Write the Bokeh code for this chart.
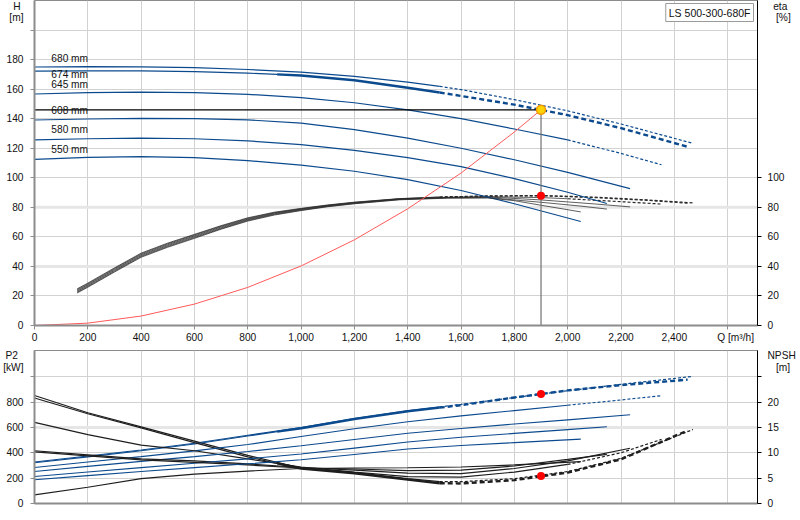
from bokeh.plotting import figure
from bokeh.layouts import column
from bokeh.models import Range1d, LinearAxis, FixedTicker, NumeralTickFormatter, Label, Span
from bokeh.embed import file_html
from bokeh.resources import INLINE

# ---- values (LS 500-300-680F) ----
# Q [m3/h], H [m], P2 [kW], NPSH [m] per impeller diameter
q_680 = [0, 200, 400, 600, 800, 1000, 1200, 1400, 1520, 1600, 1800, 2000, 2200, 2470]
h_680 = [175.0, 175.2, 175.1, 174.5, 173.3, 171.5, 168.7, 164.8, 161.9, 159.7, 152.9, 145.3, 136.4, 123.3]
p2_680 = [328, 375, 422, 475, 538, 600, 672, 733, 762, 782, 836, 890, 940, 1003]
npsh_680 = [21.3, 17.9, 15.1, 12.3, 9.5, 7.0, 6.1, 4.9, 4.3, 4.3, 4.9, 6.3, 8.9, 14.6]

q_674 = [0, 200, 400, 600, 800, 910, 1000, 1200, 1400, 1520, 1600, 1800, 2000, 2200, 2450]
h_674 = [172.2, 172.4, 172.3, 171.8, 170.8, 170.0, 169.2, 166.0, 160.9, 157.7, 155.4, 149.5, 142.4, 133.6, 121.0]
p2_674 = [322, 368, 416, 469, 532, 567, 594, 666, 727, 756, 776, 836, 892, 934, 977]
npsh_674 = [20.8, 17.7, 14.9, 12.0, 9.2, 7.9, 6.9, 5.97, 4.7, 4.0, 3.95, 4.6, 6.1, 8.7, 14.4]

q_645 = [0, 200, 400, 600, 800, 1000, 1200, 1400, 1600, 1800, 2000, 2200, 2352]
h_645 = [156.7, 157.6, 158.0, 157.7, 156.5, 154.2, 150.8, 146.0, 140.0, 133.0, 125.6, 116.5, 108.8]
p2_645 = [284, 328, 370, 415, 465, 528, 590, 645, 691, 733, 775, 817, 850]
npsh_645 = [16.0, 13.6, 11.5, 10.4, 8.8, 7.2, 6.2, 5.3, 5.2, 6.2, 7.7, 10.0, 12.65]

q_608 = [0, 200, 400, 600, 800, 1000, 1200, 1400, 1600, 1800, 2000, 2234]
h_608 = [139.1, 139.8, 140.2, 140.0, 139.2, 137.0, 132.6, 126.8, 120.0, 112.2, 103.6, 92.7]
p2_608 = [252, 293, 332, 370, 410, 455, 505, 554, 592, 627, 660, 700]
npsh_608 = [10.4, 9.6, 8.8, 8.4, 7.8, 7.1, 6.6, 6.0, 5.9, 6.9, 8.4, 10.9]

q_580 = [0, 200, 400, 600, 800, 1000, 1200, 1400, 1600, 1800, 2000, 2147]
h_580 = [125.6, 126.4, 126.8, 126.4, 125.0, 122.4, 118.6, 113.6, 107.6, 99.4, 90.2, 82.6]
p2_580 = [213, 248, 283, 318, 352, 390, 437, 485, 523, 553, 583, 605]
npsh_580 = [10.2, 9.4, 8.6, 8.1, 7.6, 7.0, 6.8, 6.5, 6.6, 7.4, 8.7, 9.7]

q_550 = [0, 200, 400, 600, 800, 1000, 1200, 1400, 1600, 1800, 2049]
h_550 = [112.4, 113.8, 114.3, 113.6, 111.6, 108.6, 104.4, 98.8, 91.4, 82.4, 70.4]
p2_550 = [187, 220, 252, 283, 313, 345, 387, 430, 458, 480, 508]
npsh_550 = [1.7, 3.2, 4.9, 5.8, 6.4, 6.9, 7.0, 7.05, 7.2, 7.6, 8.25]

# efficiency eta [%]
q_eta_680 = [160, 200, 300, 400, 500, 600, 700, 800, 900, 1000, 1100, 1200, 1370, 1520, 1700, 1900, 2100, 2300, 2470]
eta_680 = [24.8, 28.7, 39.0, 49.0, 55.8, 61.7, 67.6, 72.9, 76.7, 79.3, 81.6, 83.5, 85.9, 87.0, 87.7, 88.0, 86.9, 85.0, 83.0]
q_eta_674 = [160, 200, 300, 400, 500, 600, 700, 800, 900, 1000, 1100, 1200, 1370, 1520, 1700, 1900, 2100, 2300, 2450]
eta_674 = [24.3, 28.2, 38.5, 48.5, 55.3, 61.3, 67.2, 72.5, 76.4, 79.0, 81.4, 83.3, 85.8, 86.9, 87.6, 87.8, 86.6, 84.7, 82.8]
q_eta_645 = [160, 200, 300, 400, 500, 600, 700, 800, 900, 1000, 1100, 1200, 1370, 1550, 1700, 1900, 2000, 2200, 2352]
eta_645 = [23.7, 27.6, 37.9, 47.9, 54.7, 60.7, 66.7, 72.0, 76.0, 78.8, 81.2, 83.1, 85.7, 86.8, 87.2, 86.6, 85.8, 83.8, 82.2]
q_eta_608 = [160, 200, 300, 400, 500, 600, 700, 800, 900, 1000, 1100, 1200, 1370, 1550, 1700, 1900, 2100, 2234]
eta_608 = [23.1, 27.0, 37.3, 47.3, 54.1, 60.1, 66.1, 71.6, 75.6, 78.4, 80.9, 82.9, 85.5, 86.6, 87.0, 85.0, 82.3, 80.3]
q_eta_580 = [160, 200, 300, 400, 500, 600, 700, 800, 900, 1000, 1100, 1200, 1370, 1550, 1700, 1900, 2050, 2147]
eta_580 = [22.5, 26.4, 36.7, 46.7, 53.5, 59.5, 65.6, 71.1, 75.2, 78.1, 80.6, 82.6, 85.3, 86.4, 86.6, 83.4, 80.8, 78.8]
q_eta_550 = [160, 200, 300, 400, 500, 600, 700, 800, 900, 1000, 1100, 1200, 1370, 1550, 1700, 1800, 1900, 2049]
eta_550 = [22.0, 25.9, 36.2, 46.2, 53.0, 59.0, 65.2, 70.7, 74.8, 77.8, 80.4, 82.4, 85.1, 86.2, 86.3, 84.5, 81.4, 76.9]

# where the curves leave the allowed range (dashed); selected curve drawn thick
dash_from = {"680": 1520, "674": 1520, "645": 2000, "608": None, "580": None, "550": None}
thick_from = {"674": 910}

# system curve
q_sys = [0, 200, 400, 600, 800, 1000, 1200, 1400, 1600, 1800, 1900]
h_sys = [0, 1.6, 6.4, 14.5, 25.8, 40.3, 58.0, 79.0, 103.2, 131.0, 146.0]

# duty point
duty_q = 1900
duty_h = 146.0
duty_eta = 87.8
duty_p2 = 864
duty_npsh = 5.4

diam_labels = ["680 mm", "674 mm", "645 mm", "608 mm", "580 mm", "550 mm"]

FONT = "Liberation Sans"
FS = "10.2px"
BLUE = "#0c4a8e"
BLACK = "#1e1e1e"
GRID = "#d2d2d2"
AXIS_GREY = "#8c8c8c"
Q_MAX = 2712
H_MAX = 220
P_MAX = 1207
NPSH_MAX = P_MAX / 40
NBSP = "\u00a0"

curves = {
    "680": (q_680, h_680, p2_680, npsh_680, q_eta_680, eta_680),
    "674": (q_674, h_674, p2_674, npsh_674, q_eta_674, eta_674),
    "645": (q_645, h_645, p2_645, npsh_645, q_eta_645, eta_645),
    "608": (q_608, h_608, p2_608, npsh_608, q_eta_608, eta_608),
    "580": (q_580, h_580, p2_580, npsh_580, q_eta_580, eta_580),
    "550": (q_550, h_550, p2_550, npsh_550, q_eta_550, eta_550),
}


def part(q, v, a, b):
    idx = [i for i, x in enumerate(q) if a <= x <= b]
    return [q[i] for i in idx], [v[i] for i in idx]


def draw_curve(p, q, v, color, dash=None, thick=None, rng="default", w=1.2):
    end_solid = dash if dash is not None else q[-1]
    start_thick = thick if thick is not None else end_solid
    xs, ys = part(q, v, q[0], start_thick)
    if len(xs) > 1:
        p.line(xs, ys, line_color=color, line_width=w, y_range_name=rng)
    if thick is not None:
        xs, ys = part(q, v, start_thick, end_solid)
        p.line(xs, ys, line_color=color, line_width=2.4, y_range_name=rng)
    if dash is not None:
        xs, ys = part(q, v, dash, q[-1])
        if thick is not None:
            p.line(xs, ys, line_color=color, line_width=2.4, line_dash="5 3", y_range_name=rng)
        else:
            p.line(xs, ys, line_color=color, line_width=1.2, line_dash="3 2", y_range_name=rng)


def style_axis(ax, color, width, standoff):
    ax.axis_line_color = color
    ax.axis_line_width = width
    ax.major_tick_out = 0
    ax.major_tick_in = 0
    ax.minor_tick_out = 4
    ax.minor_tick_in = 0
    ax.minor_tick_line_color = color
    ax.major_label_standoff = standoff
    ax.major_label_text_font = FONT
    ax.major_label_text_font_size = FS
    ax.major_label_text_color = "#111111"


x_ticks = list(range(0, 2800, 200))
x_range = Range1d(0, Q_MAX)

# ---------------- top: H and eta ----------------
p1 = figure(width=798, height=345, x_range=x_range, y_range=Range1d(0, H_MAX),
            output_backend="svg", toolbar_location=None)
p1.extra_y_ranges = {"eta": Range1d(0, H_MAX)}
p1.min_border_left = 32
p1.min_border_right = 36
p1.min_border_top = 0
p1.min_border_bottom = 20
p1.outline_line_color = AXIS_GREY

# "Q [m³/h]" sits as a tick label right of the last grid line
p1.xaxis.ticker = FixedTicker(ticks=x_ticks[:-1] + [2630], minor_ticks=x_ticks)
p1.xaxis.formatter = NumeralTickFormatter(format="0,0")
p1.xaxis.major_label_overrides = {2630: "Q [m³/h]"}
style_axis(p1.xaxis[0], AXIS_GREY, 2, 2)

h_ticks = list(range(0, 200, 20))
p1.yaxis.ticker = FixedTicker(ticks=h_ticks + [208.5, 216.6], minor_ticks=h_ticks + [200])
p1.yaxis.major_label_overrides = {216.6: "H" + NBSP, 208.5: "[m]"}
style_axis(p1.yaxis[0], AXIS_GREY, 2, 7)

eta_ticks = list(range(0, 120, 20))
eta_axis = LinearAxis(y_range_name="eta",
                      ticker=FixedTicker(ticks=eta_ticks + [208.5, 216.6], minor_ticks=eta_ticks))
eta_axis.major_label_overrides = {216.6: NBSP * 2 + "eta", 208.5: NBSP * 3 + "[%]"}
style_axis(eta_axis, "black", 1, 6)
p1.add_layout(eta_axis, "right")

p1.xgrid.ticker = FixedTicker(ticks=x_ticks)
p1.ygrid.ticker = FixedTicker(ticks=list(range(20, 220, 20)))
p1.xgrid.grid_line_color = GRID
p1.ygrid.grid_line_color = GRID
for lvl in [40, 80]:
    p1.add_layout(Span(location=lvl, dimension="width", line_color="#e6e6e6", line_width=3,
                       y_range_name="eta", level="underlay"))

for key, (q, h, p2v, npsh, qe, eta) in curves.items():
    draw_curve(p1, q, h, BLUE, dash_from[key], thick_from.get(key))
    draw_curve(p1, qe, eta, "#2a2a2a", dash_from[key], None, rng="eta", w=0.75)

p1.line(q_sys, h_sys, line_color="#ff5a5a", line_width=1)
p1.line([0, duty_q], [duty_h, duty_h], line_color="black", line_width=1.2)
p1.line([duty_q, duty_q], [0, duty_h], line_color="#707070", line_width=1.2)
p1.scatter([duty_q], [duty_h], size=9, fill_color="#ffd400", line_color="#f29a00", line_width=1.5)
p1.scatter([duty_q], [duty_eta], size=8, fill_color="#ff0000", line_color=None, y_range_name="eta")

label_shift = [8, -3, 10, 10, 10, 10]
for (key, vals), txt, dy in zip(curves.items(), diam_labels, label_shift):
    p1.add_layout(Label(x=63, y=vals[1][0], text=txt, y_offset=dy, text_baseline="middle",
                        text_font=FONT, text_font_size=FS, text_color="#111111"))

p1.add_layout(Label(x=Q_MAX, y=H_MAX, text="LS 500-300-680F", text_align="right", text_baseline="top",
                    x_offset=-4, y_offset=-3, text_font=FONT, text_font_size="10.5px",
                    text_color="#111111", background_fill_color="white",
                    border_line_color="#9a9a9a", padding=3))

# ---------------- bottom: P2 and NPSH ----------------
p2 = figure(width=798, height=173, x_range=x_range, y_range=Range1d(0, P_MAX),
            output_backend="svg", toolbar_location=None)
p2.extra_y_ranges = {"npsh": Range1d(0, NPSH_MAX)}
p2.min_border_left = 32
p2.min_border_right = 36
p2.min_border_top = 5
p2.min_border_bottom = 15
p2.outline_line_color = AXIS_GREY

p2.xaxis.ticker = FixedTicker(ticks=[], minor_ticks=x_ticks)
style_axis(p2.xaxis[0], AXIS_GREY, 2, 0)
p2.xaxis.minor_tick_out = 0

p_ticks = list(range(0, 1000, 200))
p2.yaxis.ticker = FixedTicker(ticks=p_ticks + [1073, 1168], minor_ticks=p_ticks + [1000])
p2.yaxis.major_label_overrides = {1168: "P2" + NBSP * 2, 1073: "[kW]"}
style_axis(p2.yaxis[0], AXIS_GREY, 2, 7)

n_ticks = [0, 5, 10, 15, 20]
npsh_axis = LinearAxis(y_range_name="npsh",
                       ticker=FixedTicker(ticks=n_ticks + [26.8, 29.2], minor_ticks=n_ticks + [25]))
npsh_axis.major_label_overrides = {29.2: "NPSH", 26.8: NBSP * 3 + "[m]"}
style_axis(npsh_axis, "black", 1, 6)
p2.add_layout(npsh_axis, "right")

p2.xgrid.ticker = FixedTicker(ticks=x_ticks)
p2.ygrid.ticker = FixedTicker(ticks=list(range(200, 1200, 200)))
p2.xgrid.grid_line_color = GRID
p2.ygrid.grid_line_color = GRID
p2.add_layout(Span(location=15, dimension="width", line_color="#e6e6e6", line_width=3,
                   y_range_name="npsh", level="underlay"))

for key, (q, h, p2v, npsh, qe, eta) in curves.items():
    draw_curve(p2, q, p2v, BLUE, dash_from[key], thick_from.get(key), w=1.1)
    draw_curve(p2, q, npsh, BLACK, dash_from[key], thick_from.get(key), rng="npsh")

p2.scatter([duty_q], [duty_p2], size=8, fill_color="#ff0000", line_color=None)
p2.scatter([duty_q], [duty_npsh], size=8, fill_color="#ff0000", line_color=None, y_range_name="npsh")

layout = column(p1, p2)
open("out.html", "w").write(file_html(layout, INLINE))
